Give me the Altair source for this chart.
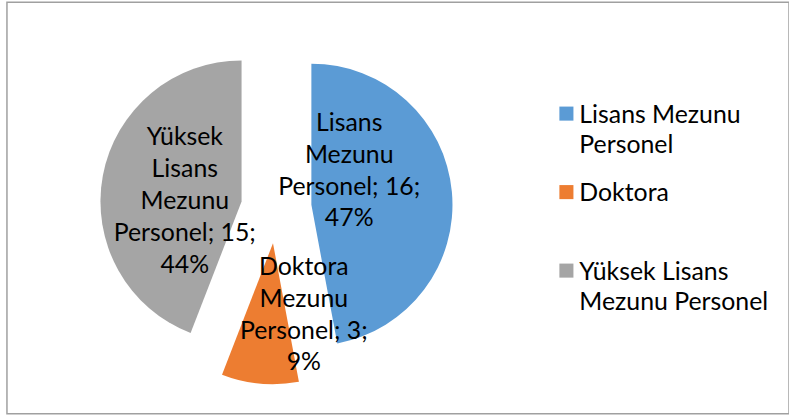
import textwrap
import altair as alt
import pandas as pd

# ---------------- data ----------------
categories = ["Lisans Mezunu Personel", "Doktora", "Yüksek Lisans Mezunu Personel"]
label_names = ["Lisans Mezunu Personel", "Doktora Mezunu Personel", "Yüksek Lisans Mezunu Personel"]
values = [16, 3, 15]

# ---------------- style / layout ----------------
colors = ["#5B9BD5", "#ED7D31", "#A5A5A5"]
PLOT_W, PLOT_H = 787, 414
PAD = {"left": 7, "top": 1, "right": 0, "bottom": 3}
CX, CY = 271, 207          # pie centre inside the plot area (px)
R = 142                    # pie radius (px)
EXPLODE = 0.25             # slice explosion (in radii)
LABEL_R = 0.45             # label distance beyond explosion (in radii)
LABEL_NUDGE = [(-0.18, 0.20), (0.26, -0.06), (0.04, -0.08)]  # best-fit label shifts (radii)
FONT = "Lato"
FS = 25
LABEL_LH = 32
LEGEND_TOPS = [101, 259]   # first / last legend entry top (px)
LEGEND_SYM_X = 563
LEGEND_TXT_X = 576

total = sum(values)
pie_rows = []
for i, (c, ln, v) in enumerate(zip(categories, label_names, values)):
    words = ln.split()
    words[-1] = f"{words[-1]}; {v};"
    words.append(f"{round(v / total * 100)}%")
    pie_rows.append({"name": c, "value": v, "order": i, "lines": words,
                     "nx": LABEL_NUDGE[i][0], "ny": LABEL_NUDGE[i][1]})
pie_df = pd.DataFrame(pie_rows)

legend_df = pd.DataFrame({
    "name": categories,
    "idx": list(range(len(categories))),
    "lines": [textwrap.wrap(c, 15) for c in categories],
})

x_scale = alt.Scale(domain=[-CX / R, (PLOT_W - CX) / R], nice=False, zero=False)
y_scale = alt.Scale(domain=[-(PLOT_H - CY) / R, CY / R], nice=False, zero=False)
color_scale = alt.Scale(domain=categories, range=colors)

base = (
    alt.Chart(pie_df)
    .transform_window(cum="sum(value)", sort=[alt.SortField("order")], frame=[None, 0])
    .transform_joinaggregate(total="sum(value)")
    .transform_calculate(a1="datum.cum / datum.total * 2 * PI")
    .transform_calculate(a0="(datum.cum - datum.value) / datum.total * 2 * PI")
    .transform_calculate(mid="(datum.a0 + datum.a1) / 2")
    .transform_calculate(cx=f"{EXPLODE} * sin(datum.mid)")
    .transform_calculate(cy=f"{EXPLODE} * cos(datum.mid)")
    .transform_calculate(lx=f"datum.cx + {LABEL_R} * sin(datum.mid) + datum.nx")
    .transform_calculate(
        ly=f"datum.cy + {LABEL_R} * cos(datum.mid) + datum.ny"
           f" + (length(datum.lines) - 1) * {LABEL_LH} / 2 / {R}"
    )
)

arcs = base.mark_arc(radius=R).encode(
    x=alt.X("cx:Q", scale=x_scale, axis=None),
    y=alt.Y("cy:Q", scale=y_scale, axis=None),
    theta=alt.Theta("a0:Q", scale=None),
    theta2=alt.Theta2("a1:Q"),
    color=alt.Color("name:N", scale=color_scale, legend=None),
)

labels = base.mark_text(
    font=FONT, fontSize=FS, lineHeight=LABEL_LH, align="center", baseline="middle", color="#000000"
).encode(
    x=alt.X("lx:Q", scale=x_scale, axis=None),
    y=alt.Y("ly:Q", scale=y_scale, axis=None),
    text=alt.Text("lines:N"),
)

leg_y = alt.Y("idx:Q", scale=alt.Scale(domain=[0, len(categories) - 1], range=LEGEND_TOPS,
                                         nice=False, zero=False), axis=None)
leg_base = alt.Chart(legend_df)
leg_sym = leg_base.mark_square(size=200, opacity=1, yOffset=11).encode(
    x=alt.value(LEGEND_SYM_X),
    y=leg_y,
    color=alt.Color("name:N", scale=color_scale, legend=None),
)
leg_txt = leg_base.mark_text(
    font=FONT, fontSize=FS, lineHeight=30.5, align="left", baseline="top", color="#000000"
).encode(
    x=alt.value(LEGEND_TXT_X),
    y=leg_y,
    text=alt.Text("lines:N"),
)

pie = alt.layer(arcs, labels)
legend = alt.layer(leg_sym, leg_txt)

chart = (
    alt.layer(pie, legend)
    .resolve_scale(x="independent", y="independent")
    .properties(width=PLOT_W, height=PLOT_H, padding=PAD,
                autosize=alt.AutoSizeParams(type="none"), background="#FFFFFF")
    .configure_view(stroke="#A0A0A0", strokeWidth=1.5)
)

chart.save("out.html", embed_options={"renderer": "svg", "actions": False})
